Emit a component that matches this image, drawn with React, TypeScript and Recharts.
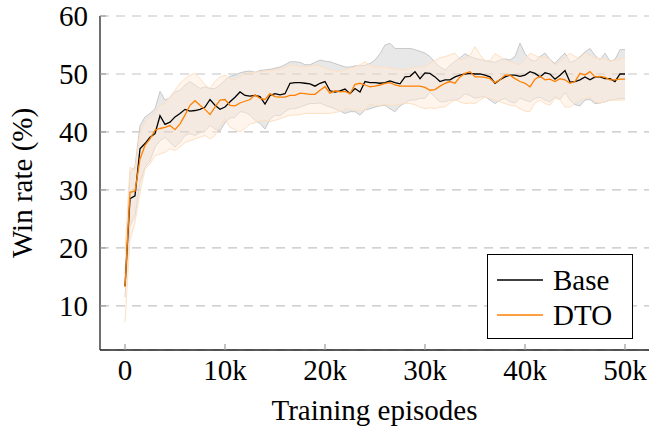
import {
  ComposedChart,
  Area,
  Line,
  XAxis,
  YAxis,
  CartesianGrid,
  Legend,
} from "recharts";

// training episodes, one sample every 500
const episodes = Array.from({ length: 101 }, (_, i) => i * 500);

const baseMean = [
  13.4, 28.5, 29.0, 37.1, 38.0, 39.1, 39.7, 42.8, 41.3, 41.7,
  42.6, 43.2, 43.9, 43.6, 43.7, 43.9, 44.3, 45.6, 44.6, 43.9,
  44.3, 45.2, 46.0, 46.9, 46.3, 46.2, 46.3, 46.1, 44.8, 46.3,
  46.6, 46.4, 46.6, 48.4, 48.5, 48.5, 48.4, 48.3, 47.9, 48.4,
  48.7, 47.1, 46.9, 47.1, 47.4, 46.6, 47.5, 46.9, 48.7, 48.5,
  48.5, 48.4, 48.5, 48.8, 48.5, 48.3, 49.5, 49.6, 50.4, 49.2,
  50.2, 50.1, 49.5, 48.7, 49.0, 49.0, 49.5, 49.8, 50.0, 50.1,
  50.0, 50.0, 49.8, 49.5, 48.4, 49.0, 49.5, 49.8, 49.8, 49.6,
  49.8, 50.4, 50.1, 49.5, 50.2, 50.0, 49.1, 49.8, 50.6, 48.6,
  48.7, 49.0, 49.5, 49.0, 49.5, 49.5, 49.2, 49.2, 48.7, 50.0,
  50.0,
];

const dtoMean = [
  13.3, 29.6, 29.8, 35.3, 37.7, 38.8, 40.3, 40.6, 40.8, 41.1,
  40.4, 41.4, 42.9, 44.6, 45.4, 44.6, 43.9, 43.0, 44.3, 45.5,
  45.6, 44.6, 44.5, 45.0, 45.3, 45.6, 46.4, 45.8, 45.6, 46.6,
  46.1, 46.0, 46.0, 46.3, 46.3, 46.7, 46.6, 46.5, 46.5, 47.2,
  47.8, 46.7, 47.1, 46.9, 47.0, 46.6, 48.2, 48.4, 48.1, 47.8,
  47.9, 48.1, 48.4, 48.5, 48.1, 47.9, 47.9, 47.9, 47.9, 47.9,
  47.7, 47.2, 47.3, 47.9, 48.4, 48.7, 48.4, 49.5, 50.1, 50.4,
  49.5, 49.5, 49.4, 49.2, 48.5, 49.0, 49.8, 49.8, 49.2, 48.7,
  48.4, 47.8, 49.1, 49.6, 49.0, 49.1, 48.7, 49.2, 49.0, 48.4,
  48.7, 50.1, 49.8, 50.4, 49.5, 49.6, 49.4, 49.0, 49.0, 49.1,
  49.1,
];

const baseLow = [
  11.5, 23.8, 25.5, 31.3, 33.9, 35.0, 37.4, 38.5, 39.1, 38.2,
  37.4, 38.2, 39.4, 39.7, 39.4, 39.9, 40.2, 41.1, 40.5, 40.2,
  41.6, 42.4, 42.5, 43.5, 43.4, 42.9, 42.0, 41.5, 40.5, 42.2,
  42.9, 42.8, 43.5, 44.0, 44.0, 44.3, 44.6, 44.9, 44.9, 45.0,
  44.6, 44.3, 44.0, 43.6, 43.2, 43.5, 43.5, 42.9, 43.8, 44.0,
  44.3, 44.5, 44.6, 44.0, 43.5, 44.5, 45.0, 45.5, 45.5, 45.8,
  45.8, 46.9, 46.0, 45.2, 45.2, 45.5, 45.5, 45.8, 46.6, 46.3,
  45.8, 46.0, 46.1, 45.5, 44.9, 45.5, 45.8, 45.2, 45.0, 45.8,
  45.5, 45.2, 45.8, 46.0, 45.5, 45.2, 46.1, 45.6, 46.8, 45.5,
  44.7, 44.5, 45.5, 45.6, 44.9, 45.0, 45.2, 45.5, 45.6, 45.8,
  45.8,
];

const baseHigh = [
  15.5, 33.0, 34.0, 41.1, 42.6, 43.2, 44.0, 47.0, 45.5, 45.9,
  46.9, 47.2, 48.1, 48.7, 48.1, 47.5, 47.8, 47.5, 47.5, 48.1,
  49.0, 49.6, 49.8, 50.2, 50.4, 50.5, 50.3, 50.6, 50.7, 50.8,
  51.0, 51.2, 51.6, 52.1, 52.1, 52.0, 51.6, 51.6, 52.0, 52.4,
  52.2, 52.1, 51.8, 51.5, 51.2, 51.2, 51.4, 51.4, 51.5, 51.8,
  52.4, 53.5, 55.0, 55.3, 54.4, 54.4, 54.4, 54.4, 54.2, 53.9,
  53.6, 53.0, 52.0, 51.2, 50.7, 51.5, 52.2, 52.8, 53.5, 53.0,
  52.7, 52.5, 52.3, 52.2, 52.0, 52.4, 52.6, 52.4, 53.0, 55.3,
  53.5, 52.5, 52.2, 53.0, 53.6, 52.5, 51.8, 52.8, 53.6, 52.0,
  52.3, 53.0, 53.8, 54.4, 53.2, 52.4, 53.6, 52.2, 52.5, 54.2,
  54.2,
];

const dtoLow = [
  7.2, 21.4, 24.4, 29.6, 33.6, 34.5, 35.9, 36.2, 36.5, 37.1,
  36.8, 37.4, 38.2, 38.5, 38.8, 39.1, 39.4, 38.8, 39.4, 41.1,
  42.3, 40.8, 40.4, 40.0, 40.6, 41.4, 41.6, 41.9, 42.0, 41.8,
  42.0, 42.3, 42.6, 42.9, 42.9, 43.0, 43.2, 43.2, 43.2, 43.2,
  43.2, 43.2, 43.4, 43.5, 44.0, 43.9, 43.8, 43.6, 43.8, 44.9,
  44.5, 44.6, 44.7, 44.6, 44.6, 44.8, 44.9, 44.9, 44.7, 44.3,
  44.0, 44.2, 44.0, 44.3, 44.3, 45.0, 45.5, 45.2, 44.9, 45.0,
  44.9, 45.5, 46.0, 45.8, 45.5, 45.2, 44.9, 44.6, 44.5, 44.0,
  43.6, 43.5, 45.0, 45.5, 44.9, 44.6, 45.8, 45.6, 44.3, 44.3,
  45.0, 45.5, 45.8, 46.0, 45.2, 45.0, 45.2, 45.5, 45.5, 45.5,
  45.5,
];

const dtoHigh = [
  19.5, 33.9, 33.5, 40.0, 41.7, 42.6, 43.2, 44.6, 44.9, 46.1,
  47.2, 48.4, 49.2, 49.8, 50.1, 49.2, 48.1, 47.5, 48.7, 49.5,
  49.8, 49.2, 49.0, 49.6, 50.0, 50.2, 50.3, 50.4, 50.5, 50.6,
  50.7, 50.9, 51.1, 51.5, 51.5, 51.3, 51.2, 51.4, 51.5, 51.4,
  51.0, 50.7, 50.5, 50.4, 50.7, 51.0, 51.2, 51.6, 52.1, 51.5,
  51.2, 51.2, 51.2, 51.0, 50.9, 50.8, 50.7, 50.9, 51.2, 51.2,
  51.2, 51.8, 52.3, 52.8, 53.0, 53.3, 53.6, 52.4, 52.6, 53.2,
  54.7, 53.3, 52.3, 52.3, 53.5, 53.0, 52.4, 52.1, 51.8, 51.6,
  52.5, 53.6, 53.2, 52.8, 53.0, 52.5, 51.5, 52.2, 52.8, 53.6,
  53.0, 52.7, 53.6, 53.2, 52.7, 52.7, 52.5, 52.2, 52.4, 52.5,
  52.8,
];

const xTicks = [0, 10000, 20000, 30000, 40000, 50000];
const yTicks = [10, 20, 30, 40, 50, 60];

const data = episodes.map((ep, i) => ({
  ep,
  base: baseMean[i],
  dto: dtoMean[i],
  baseBand: [baseLow[i], baseHigh[i]],
  dtoBand: [dtoLow[i], dtoHigh[i]],
}));

const FONT = "Liberation Serif, DejaVu Serif, serif";
const ORANGE = "#ff8000";
const X_DOMAIN = [-2500, 52400];
const Y_DOMAIN = [2.4, 60];

const tickStyle = { fill: "#000", fontSize: 29, fontFamily: FONT };

function LegendBox() {
  const rows = [
    { name: "Base", color: "#000" },
    { name: "DTO", color: ORANGE },
  ];
  return (
    <div
      style={{
        width: 146,
        height: 85,
        boxSizing: "border-box",
        border: "1.5px solid #000",
        background: "#fff",
        position: "relative",
        fontFamily: FONT,
        fontSize: 29,
      }}
    >
      {rows.map((r, i) => (
        <div
          key={r.name}
          style={{
            position: "absolute",
            left: 9,
            top: 8 + i * 35,
            height: 34,
            display: "flex",
            alignItems: "center",
          }}
        >
          <svg width={46} height={4} style={{ display: "block" }}>
            <line x1={0} y1={2} x2={46} y2={2} stroke={r.color} strokeWidth={1.5} />
          </svg>
          <span style={{ marginLeft: 10, lineHeight: "34px", color: "#000" }}>{r.name}</span>
        </div>
      ))}
    </div>
  );
}

export default function App() {
  return (
    <div style={{ position: "absolute", left: 0, top: 0, background: "#fff", fontFamily: FONT }}>
      <ComposedChart
        width={651}
        height={430}
        data={data}
        margin={{ top: 16, right: 2, bottom: 0, left: 0 }}
        style={{ fontFamily: FONT }}
      >
        <CartesianGrid
          horizontal
          vertical={false}
          stroke="#c4c4c4"
          strokeWidth={1.2}
          strokeDasharray="9 7"
        />
        <XAxis
          dataKey="ep"
          type="number"
          domain={X_DOMAIN}
          ticks={xTicks}
          interval={0}
          allowDataOverflow
          height={80}
          tickFormatter={(v: number) => (v === 0 ? "0" : `${v / 1000}k`)}
          tick={tickStyle}
          tickSize={-6}
          tickMargin={15}
          tickLine={{ stroke: "#9a9a9a", strokeWidth: 1.2 }}
          axisLine={{ stroke: "#222", strokeWidth: 1.3 }}
          label={{
            value: "Training episodes",
            position: "center",
            dy: 20,
            style: { fontSize: 29, fontFamily: FONT, fill: "#000" },
          }}
        />
        <XAxis
          xAxisId="top"
          orientation="top"
          dataKey="ep"
          type="number"
          domain={X_DOMAIN}
          ticks={xTicks}
          interval={0}
          allowDataOverflow
          height={0}
          tick={false}
          tickSize={-6}
          tickLine={{ stroke: "#9a9a9a", strokeWidth: 1.2 }}
          axisLine={{ stroke: "#222", strokeWidth: 1.3 }}
        />
        <YAxis
          type="number"
          domain={Y_DOMAIN}
          ticks={yTicks}
          interval={0}
          allowDataOverflow
          width={100}
          tick={tickStyle}
          tickSize={-6}
          tickMargin={18}
          tickLine={{ stroke: "#9a9a9a", strokeWidth: 1.2 }}
          axisLine={{ stroke: "#222", strokeWidth: 1.3 }}
          label={{
            value: "Win rate (%)",
            angle: -90,
            position: "center",
            dx: -28,
            style: { fontSize: 29, fontFamily: FONT, fill: "#000", textAnchor: "middle" },
          }}
        />
        <YAxis
          yAxisId="right"
          orientation="right"
          type="number"
          domain={Y_DOMAIN}
          ticks={yTicks}
          interval={0}
          allowDataOverflow
          width={0}
          tick={false}
          tickSize={-6}
          tickLine={{ stroke: "#9a9a9a", strokeWidth: 1.2 }}
          axisLine={{ stroke: "#222", strokeWidth: 1.3 }}
        />
        <Area
          type="linear"
          dataKey="baseBand"
          stroke="#c8c8c8"
          strokeWidth={1}
          fill="#000"
          fillOpacity={0.09}
          isAnimationActive={false}
          legendType="none"
          activeDot={false}
        />
        <Area
          type="linear"
          dataKey="dtoBand"
          stroke="#fde0c4"
          strokeWidth={1}
          fill="#ffecd9"
          fillOpacity={0.5}
          isAnimationActive={false}
          legendType="none"
          activeDot={false}
        />
        <Line
          type="linear"
          dataKey="base"
          name="Base"
          stroke="#000"
          strokeWidth={1.3}
          dot={false}
          isAnimationActive={false}
        />
        <Line
          type="linear"
          dataKey="dto"
          name="DTO"
          stroke={ORANGE}
          strokeWidth={1.3}
          dot={false}
          isAnimationActive={false}
        />
        <Legend
          layout="vertical"
          align="center"
          verticalAlign="middle"
          content={<LegendBox />}
          wrapperStyle={{ left: 487, top: 254, width: 146, height: 85 }}
        />
      </ComposedChart>
    </div>
  );
}
